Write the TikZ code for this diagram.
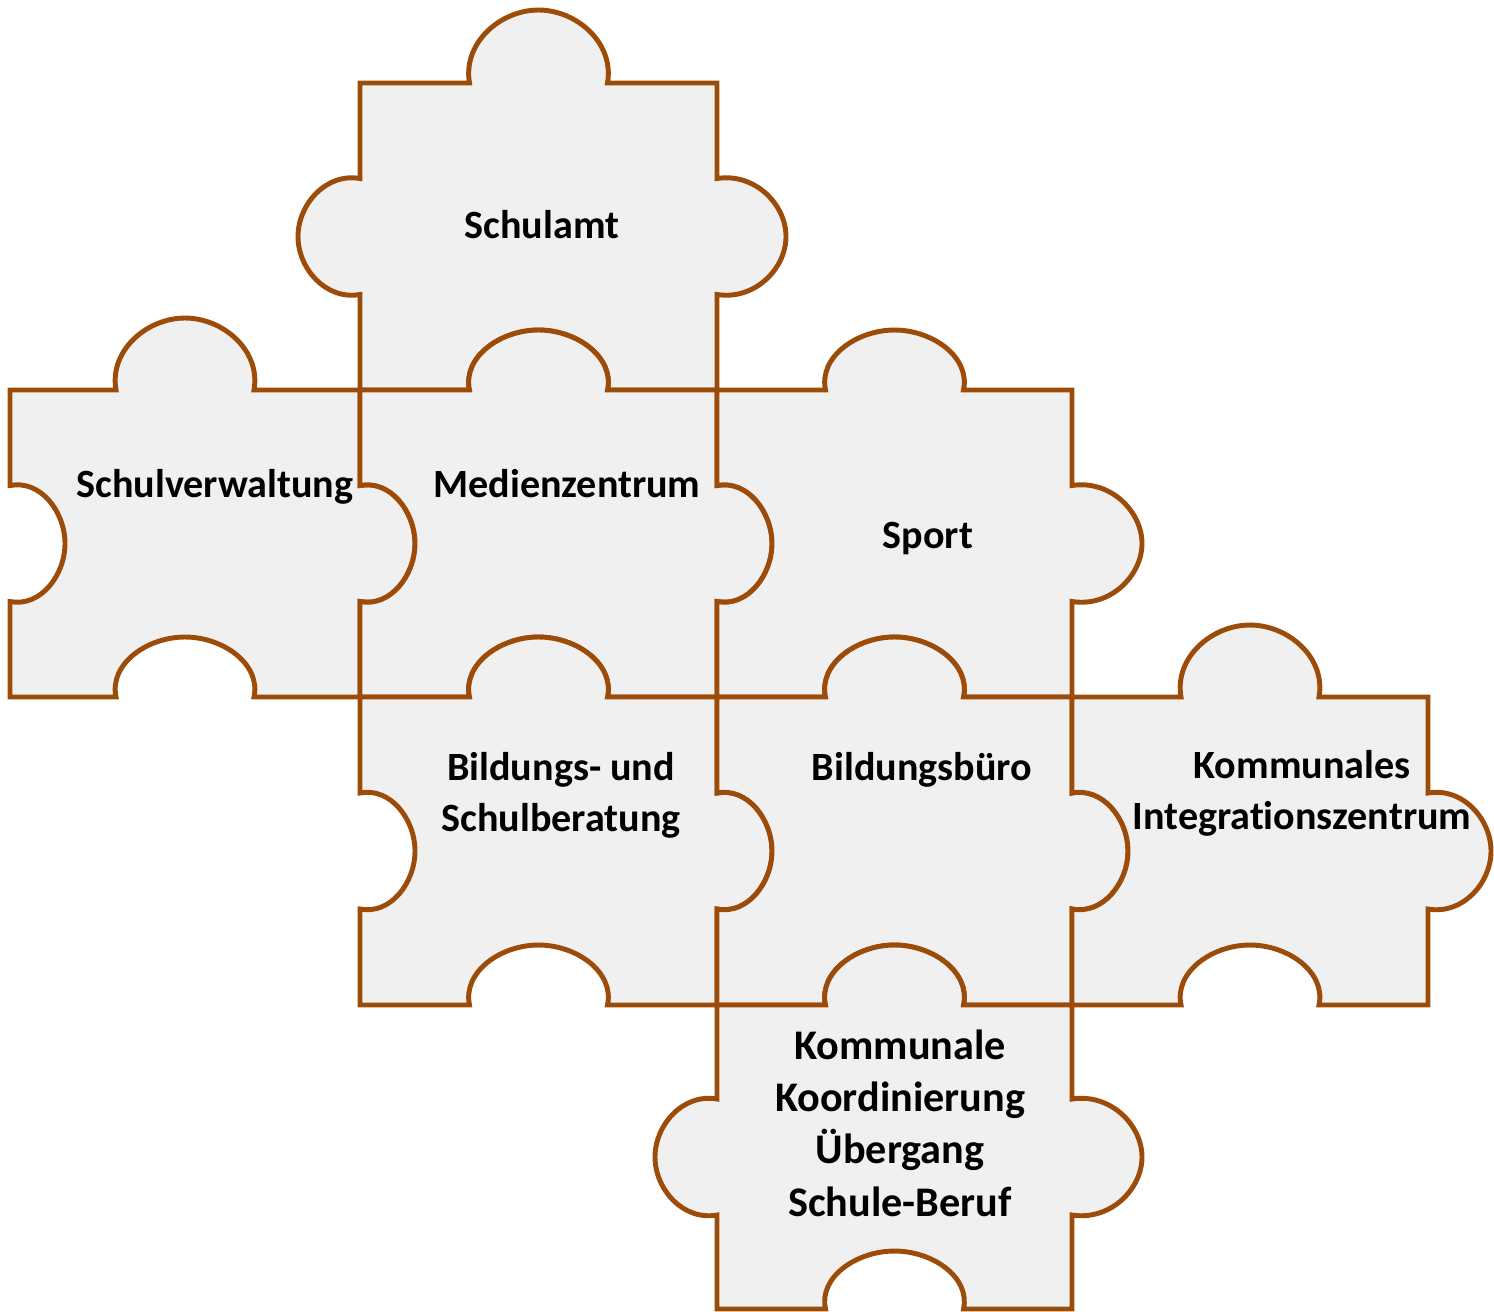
\documentclass[tikz,border=0pt]{standalone}
\usepackage{fontspec}
\setmainfont{Carlito}[Ligatures=NoCommon]
\usepackage{tikz}

\definecolor{edgebrown}{RGB}{156,76,8}
\definecolor{piecegray}{RGB}{240,240,240}

% x0 y0 x1 y1, then depth of the lobe on top, right, bottom, left (negative = slot)
\newcommand{\puzzlepiece}[8]{%
  \draw[piece] (#1,#2)
    -- ({(#1+#3)/2-69},#2) .. controls +(-7,{-0.55*(#5)}) and +(-38,0) .. ({(#1+#3)/2},{#2-(#5)})
       .. controls +(38,0) and +(7,{-0.55*(#5)}) .. ({(#1+#3)/2+69},#2)
    -- (#3,#2)
    -- (#3,{(#2+#4)/2-58}) .. controls +({0.55*(#6)},-6) and +(0,-32) .. ({#3+(#6)},{(#2+#4)/2})
       .. controls +(0,32) and +({0.55*(#6)},6) .. (#3,{(#2+#4)/2+58})
    -- (#3,#4)
    -- ({(#1+#3)/2+69},#4) .. controls +(7,{0.55*(#7)}) and +(38,0) .. ({(#1+#3)/2},{#4+(#7)})
       .. controls +(-38,0) and +(-7,{0.55*(#7)}) .. ({(#1+#3)/2-69},#4)
    -- (#1,#4)
    -- (#1,{(#2+#4)/2+58}) .. controls +({-0.55*(#8)},6) and +(0,32) .. ({#1-(#8)},{(#2+#4)/2})
       .. controls +(0,-32) and +({-0.55*(#8)},-6) .. (#1,{(#2+#4)/2-58})
    -- cycle;}

\begin{document}
\begin{tikzpicture}[x=0.01cm, y=-0.01cm,
  piece/.style={draw=edgebrown, fill=piecegray, line width=1.4pt},
  lbl/.style={font=\fontsize{11.4}{14.6}\selectfont\bfseries, inner sep=0pt, align=center}]
  \useasboundingbox (0,0) rectangle (1494,1311);

  \puzzlepiece{360}{83}{717}{390}{73}{69}{-60}{62}
  \puzzlepiece{10}{390}{360}{697}{72}{55}{-60}{-55}
  \puzzlepiece{360}{390}{717}{697}{60}{55}{-60}{-55}
  \puzzlepiece{717}{390}{1072}{697}{60}{70}{-60}{-55}
  \puzzlepiece{360}{697}{717}{1005}{60}{55}{-60}{-55}
  \puzzlepiece{717}{697}{1072}{1005}{60}{56}{-60}{-55}
  \puzzlepiece{1072}{697}{1428}{1005}{72}{63}{-60}{-56}
  \puzzlepiece{717}{1005}{1072}{1309}{60}{70}{-58}{62}

  \node[lbl, anchor=base] (schulamt) at (542,238) {Schulamt};
  \node[lbl, anchor=base] (verwaltung) at (215,497) {Schulverwaltung};
  \node[lbl, anchor=base] (medien) at (567,497) {Medienzentrum};
  \node[lbl, anchor=base] (sport) at (928,548) {Sport};
  \node[lbl] (beratung) at (561,795) {Bildungs- und\\Schulberatung};
  \node[lbl, anchor=base] (buero) at (922,780) {Bildungsbüro};
  \node[lbl] (integration) at (1302,793) {Kommunales\\Integrationszentrum};
  \node[lbl, font=\fontsize{12}{14.9}\selectfont\bfseries] (uebergang) at (900,1123)
    {Kommunale\\Koordinierung\\Übergang\\Schule-Beruf};
\end{tikzpicture}
\end{document}
